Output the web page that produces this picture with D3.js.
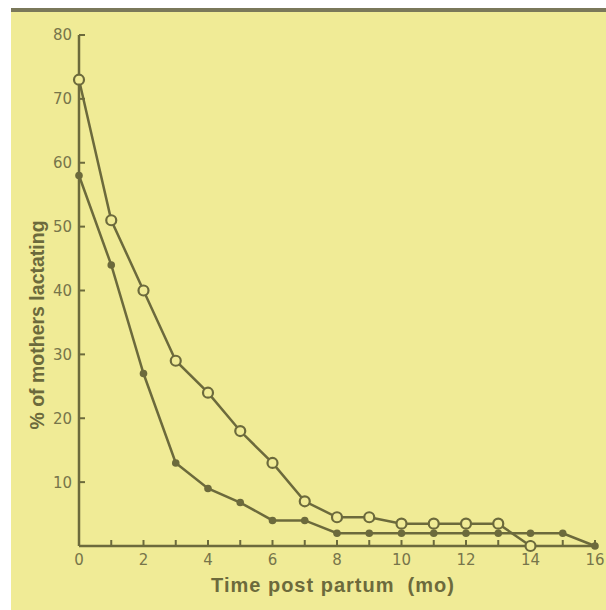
<!DOCTYPE html>
<html>
<head>
<meta charset="utf-8">
<script src="https://cdn.jsdelivr.net/npm/d3@7"></script>
<style>
  body { margin: 0; background: #fff; }
  svg { display: block; }
</style>
</head>
<body>
<svg id="chart" width="606" height="610"></svg>
<script>
// months post partum
var months = [0,1,2,3,4,5,6,7,8,9,10,11,12,13,14,15,16]
// open circles
var openVals = [73,51,40,29,24,18,13,7,4.5,4.5,3.5,3.5,3.5,3.5,0]
// filled dots
var filledVals = [58,44,27,13,9,6.8,4,4,2,2,2,2,2,2,2,2,0]
var yTicks = [10,20,30,40,50,60,70,80]
var xTickLabels = [0,2,4,6,8,10,12,14,16]

var ink = '#6c6a3c'
var paper = '#f0eb96'
var svg = d3.select('svg#chart')

// page background
svg.append('rect').attr('x',11).attr('y',8).attr('width',595).attr('height',602).attr('fill',paper)
svg.append('rect').attr('x',11).attr('y',8).attr('width',595).attr('height',4).attr('fill','#7a785a')

var x = d3.scaleLinear().domain([0,16]).range([79,595])
var y = d3.scaleLinear().domain([0,80]).range([546,35])

// axes lines
svg.append('line').attr('x1',x(0)).attr('x2',x(0)).attr('y1',y(0)).attr('y2',y(80))
  .attr('stroke',ink).attr('stroke-width',2.5)
svg.append('line').attr('x1',x(0)).attr('x2',x(16)).attr('y1',y(0)).attr('y2',y(0))
  .attr('stroke',ink).attr('stroke-width',2.5)

// y ticks (inside)
var yAxis = svg.append('g')
yAxis.selectAll('line').data(yTicks).enter().append('line')
  .attr('x1',x(0)).attr('x2',x(0)+6)
  .attr('y1',d => y(d)).attr('y2',d => y(d))
  .attr('stroke',ink).attr('stroke-width',2)
yAxis.selectAll('text').data(yTicks).enter().append('text')
  .attr('x',x(0)-7).attr('y',d => y(d)).attr('dy','0.36em')
  .attr('text-anchor','end')
  .attr('font-family','DejaVu Sans, sans-serif').attr('font-size',15)
  .attr('fill','#77754a').text(d => d)

// x ticks (inside)
var xAxis = svg.append('g')
xAxis.selectAll('line').data(months.slice(1)).enter().append('line')
  .attr('x1',d => x(d)).attr('x2',d => x(d))
  .attr('y1',y(0)).attr('y2',y(0)-6)
  .attr('stroke',ink).attr('stroke-width',2)
xAxis.selectAll('text').data(xTickLabels).enter().append('text')
  .attr('x',d => x(d)).attr('y',565)
  .attr('text-anchor','middle')
  .attr('font-family','DejaVu Sans, sans-serif').attr('font-size',15)
  .attr('fill','#77754a').text(d => d)

// axis titles
svg.append('text').attr('x',333).attr('y',592).attr('text-anchor','middle')
  .attr('font-family','Liberation Sans, Arial, sans-serif').attr('font-weight','bold')
  .attr('font-size',20).attr('letter-spacing',1).attr('fill',ink)
  .style('white-space','pre').text('Time post partum  (mo)')
svg.append('text').attr('transform','translate(44,325) rotate(-90)').attr('text-anchor','middle')
  .attr('font-family','Liberation Sans, Arial, sans-serif').attr('font-weight','bold')
  .attr('font-size',19.5).attr('fill',ink).text('% of mothers lactating')

var line = d3.line().x((d,i) => x(months[i])).y(d => y(d))

svg.append('path').datum(filledVals).attr('d',line)
  .attr('fill','none').attr('stroke',ink).attr('stroke-width',2.5)
svg.append('path').datum(openVals).attr('d',line)
  .attr('fill','none').attr('stroke',ink).attr('stroke-width',2.5)

svg.append('g').selectAll('circle').data(filledVals).enter().append('circle')
  .attr('cx',(d,i) => x(months[i])).attr('cy',d => y(d)).attr('r',3.8)
  .attr('fill',ink)
svg.append('g').selectAll('circle').data(openVals).enter().append('circle')
  .attr('cx',(d,i) => x(months[i])).attr('cy',d => y(d)).attr('r',5)
  .attr('fill',paper).attr('stroke',ink).attr('stroke-width',2.2)
</script>
</body>
</html>
